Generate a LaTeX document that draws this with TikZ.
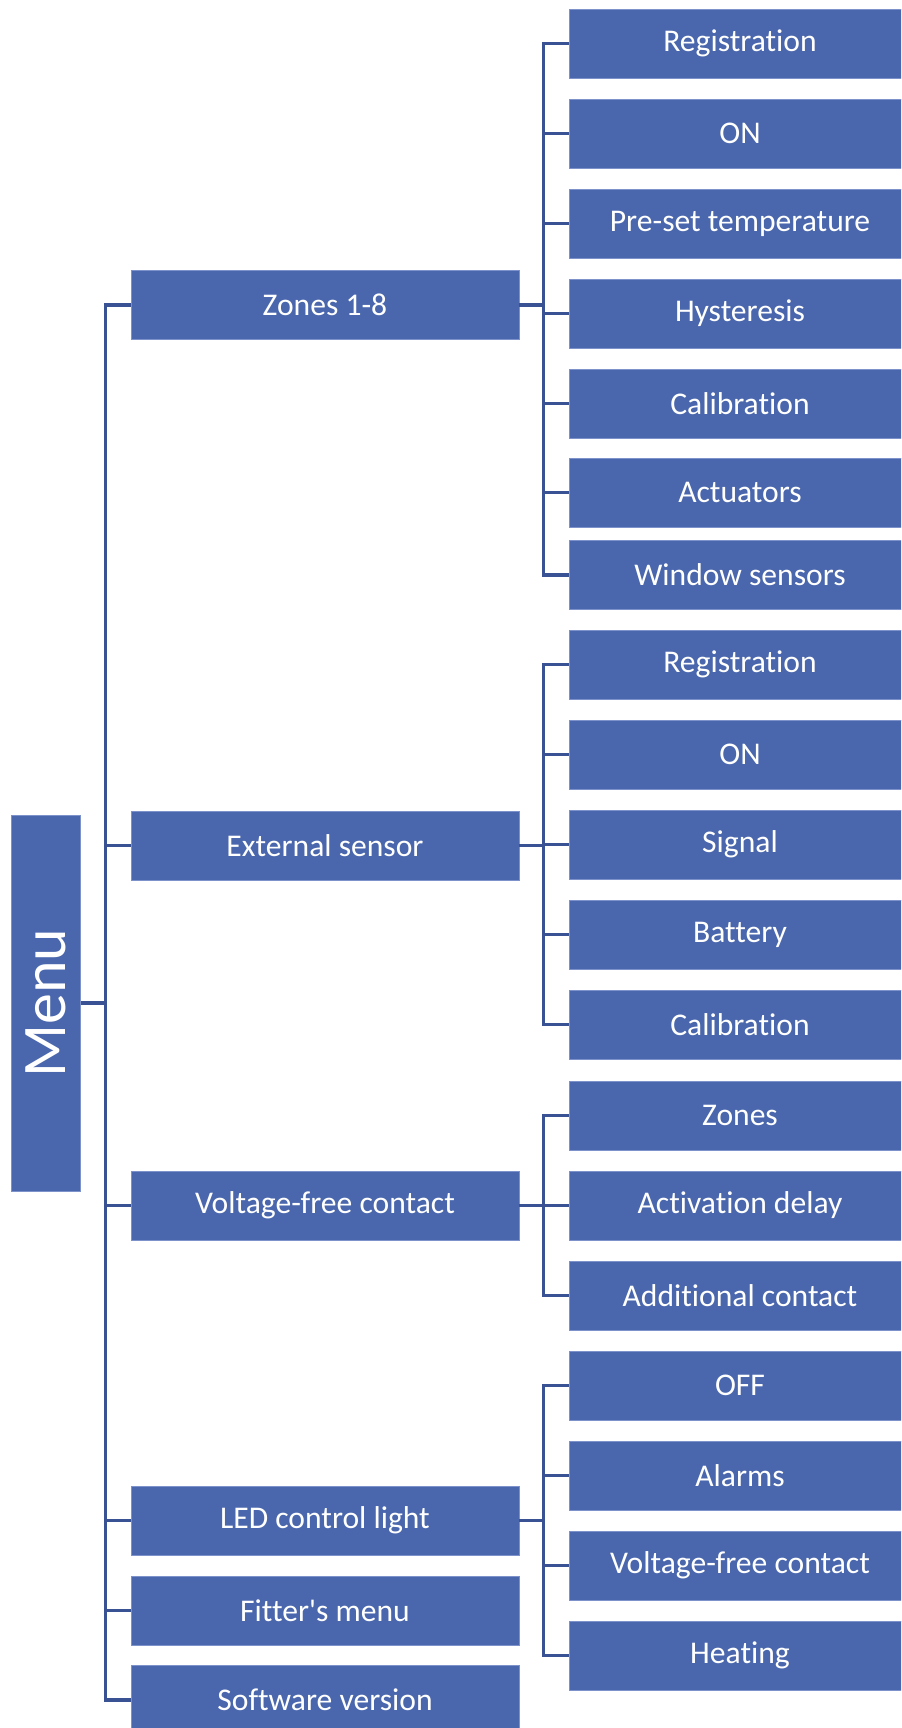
\documentclass[tikz,border=0pt]{standalone}
\usepackage{fontspec}
\setmainfont{Carlito}[Ligatures=NoCommon]
\definecolor{boxblue}{RGB}{74,103,173}
\definecolor{lineblue}{RGB}{57,82,148}
\definecolor{edgeblue}{RGB}{125,146,203}

\begin{document}
\begin{tikzpicture}[x=0.5pt,y=-0.5pt,
	leafbox/.style={fill=boxblue,draw=edgeblue,line width=0.4pt,text=white,inner sep=0pt,
		minimum width=171pt,minimum height=34.5pt,font=\fontsize{15.8}{18}\selectfont},
	branchbox/.style={leafbox,minimum width=194pt},
	menubox/.style={leafbox,rotate=90,minimum width=188pt,minimum height=34.75pt,
		font=\fontsize{31}{34}\selectfont},
	conn/.style={draw=lineblue,line width=1.6pt}]
			\useasboundingbox (0,0) rectangle (901,1728);
			\clip (0,0) rectangle (901,1728);
			%%%%%%%%%%%%%%%%%%%%%%%%%%%%%%%%
			\node[menubox] (menu) at (46,1003){Menu};
			%%%%%%%%%%%%%%%%%%%%%%%%%%%%%%%%
			\node[branchbox] (zones) at (325,305){Zones 1-8};
			\node[branchbox] (ext) at (325,845.5){External sensor};
			\node[branchbox] (vfc) at (325,1205.5){Voltage-free contact};
			\node[branchbox] (led) at (325,1520.5){LED control light};
			\node[branchbox] (fit) at (325,1610.5){Fitter\textquotesingle s menu};
			\node[branchbox] (soft) at (325,1700){Software version};
			%%%%%%%%%%%%%%%%%%%%%%%%%%%%%%%%
			\node[leafbox] (z1) at (740,43.5){Registration};
			\node[leafbox] (z2) at (740,133.5){ON};
			\node[leafbox] (z3) at (740,223.5){Pre-set temperature};
			\node[leafbox] (z4) at (740,313.5){Hysteresis};
			\node[leafbox] (z5) at (740,403.5){Calibration};
			\node[leafbox] (z6) at (740,492.5){Actuators};
			\node[leafbox] (z7) at (740,575){Window sensors};
			%%%%%%%%%%%%%%%%%%%%%%%%%%%%%%%%
			\node[leafbox] (e1) at (740,664.5){Registration};
			\node[leafbox] (e2) at (740,754.5){ON};
			\node[leafbox] (e3) at (740,844.5){Signal};
			\node[leafbox] (e4) at (740,934.5){Battery};
			\node[leafbox] (e5) at (740,1024.5){Calibration};
			%%%%%%%%%%%%%%%%%%%%%%%%%%%%%%%%
			\node[leafbox] (v1) at (740,1115.5){Zones};
			\node[leafbox] (v2) at (740,1205.5){Activation delay};
			\node[leafbox] (v3) at (740,1295.5){Additional contact};
			%%%%%%%%%%%%%%%%%%%%%%%%%%%%%%%%
			\node[leafbox] (l1) at (740,1385.5){OFF};
			\node[leafbox] (l2) at (740,1475.5){Alarms};
			\node[leafbox] (l3) at (740,1565.5){Voltage-free contact};
			\node[leafbox] (l4) at (740,1655.5){Heating};
			%%%%%%%%%%%%%%%%%%%%%%%%%%%%%%%%
			\draw[conn] (menu.south) -- ++(24,0) coordinate (mbus);
			\foreach \n in {zones,ext,vfc,led,fit,soft}
				\draw[conn] (mbus) |- (\n.west);
			\draw[conn] (zones.east) -- ++(24,0) coordinate (zbus);
			\foreach \n in {z1,z2,z3,z4,z5,z6,z7}
				\draw[conn] (zbus) |- (\n.west);
			\draw[conn] (ext.east) -- ++(24,0) coordinate (ebus);
			\foreach \n in {e1,e2,e3,e4,e5}
				\draw[conn] (ebus) |- (\n.west);
			\draw[conn] (vfc.east) -- ++(24,0) coordinate (vbus);
			\foreach \n in {v1,v2,v3}
				\draw[conn] (vbus) |- (\n.west);
			\draw[conn] (led.east) -- ++(24,0) coordinate (lbus);
			\foreach \n in {l1,l2,l3,l4}
				\draw[conn] (lbus) |- (\n.west);
\end{tikzpicture}
\end{document}
